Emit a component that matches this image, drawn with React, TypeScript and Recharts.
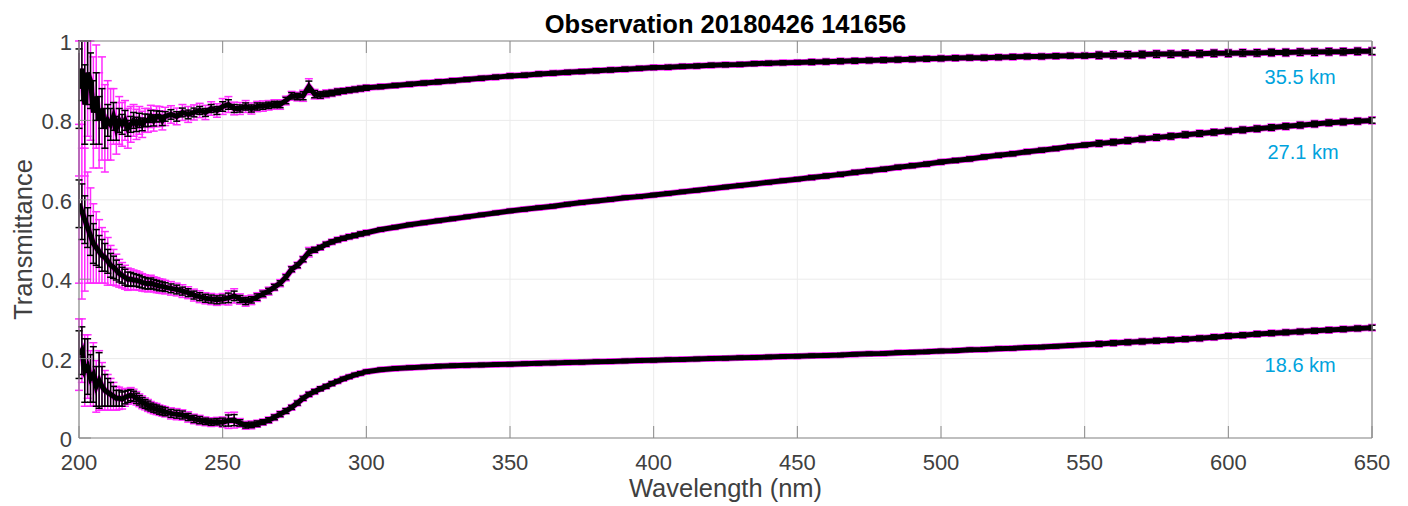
import { LineChart, Line, XAxis, YAxis, CartesianGrid, ErrorBar, ReferenceDot } from 'recharts'

const FONT = '"Liberation Sans", Arial, Helvetica, sans-serif'
const AXIS_GRAY = '#8a8a8a'
const TEXT_GRAY = '#404040'
const MAGENTA = '#ff2bff'
const LABEL_BLUE = '#00a3dd'

// wavelength samples (nm): 1 nm to 230, 2 nm to 300, 5 nm to 650
const wavelengths = [
  200, 201, 202, 203, 204, 205, 206, 207, 208, 209, 210, 211, 212, 213, 214, 215, 216, 217, 218, 219, 220,
  221, 222, 223, 224, 225, 226, 227, 228, 229, 230,
  232, 234, 236, 238, 240, 242, 244, 246, 248, 250, 252, 254, 256, 258, 260, 262, 264, 266, 268, 270,
  272, 274, 276, 278, 280, 282, 284, 286, 288, 290, 292, 294, 296, 298, 300,
  305, 310, 315, 320, 325, 330, 335, 340, 345, 350, 355, 360, 365, 370, 375, 380, 385, 390, 395, 400,
  405, 410, 415, 420, 425, 430, 435, 440, 445, 450, 455, 460, 465, 470, 475, 480, 485, 490, 495, 500,
  505, 510, 515, 520, 525, 530, 535, 540, 545, 550, 555, 560, 565, 570, 575, 580, 585, 590, 595, 600,
  605, 610, 615, 620, 625, 630, 635, 640, 645, 650,
]

// 35.5 km
const trans355 = [
  0.88, 0.93, 0.84, 0.92, 0.9, 0.82, 0.86, 0.8, 0.83, 0.78, 0.8, 0.79, 0.81, 0.78, 0.8, 0.79, 0.8, 0.78, 0.79, 0.8, 0.79,
  0.8, 0.79, 0.8, 0.8, 0.81, 0.8, 0.81, 0.81, 0.8, 0.81,
  0.815, 0.81, 0.82, 0.815, 0.82, 0.825, 0.82, 0.83, 0.825, 0.835, 0.84, 0.83, 0.83, 0.835, 0.83, 0.835, 0.836, 0.838, 0.84, 0.84,
  0.85, 0.862, 0.86, 0.862, 0.885, 0.866, 0.864, 0.867, 0.869, 0.872, 0.874, 0.876, 0.878, 0.88, 0.882,
  0.885, 0.888, 0.891, 0.894, 0.897, 0.9, 0.903, 0.906, 0.909, 0.912, 0.914, 0.917, 0.919, 0.921, 0.923, 0.925, 0.927, 0.929, 0.931, 0.933,
  0.934, 0.936, 0.937, 0.939, 0.94, 0.941, 0.943, 0.944, 0.945, 0.946, 0.947, 0.948, 0.949, 0.95, 0.951, 0.952, 0.953, 0.954, 0.955, 0.956,
  0.957, 0.958, 0.958, 0.959, 0.96, 0.961, 0.961, 0.962, 0.963, 0.963, 0.964, 0.965, 0.965, 0.966, 0.967, 0.967, 0.968, 0.968, 0.969, 0.969,
  0.97, 0.97, 0.971, 0.971, 0.972, 0.972, 0.973, 0.973, 0.974, 0.974,
]
const err355Black = [
  0.1, 0.08, 0.1, 0.08, 0.07, 0.08, 0.06, 0.06, 0.05, 0.05, 0.04, 0.04, 0.035, 0.03, 0.03, 0.025, 0.025, 0.02, 0.02, 0.02, 0.018,
  0.018, 0.016, 0.016, 0.015, 0.015, 0.014, 0.014, 0.013, 0.013, 0.012,
  0.012, 0.012, 0.011, 0.011, 0.011, 0.01, 0.01, 0.01, 0.01, 0.012, 0.012, 0.01, 0.009, 0.009, 0.009, 0.009, 0.008, 0.008, 0.008, 0.008,
  0.008, 0.008, 0.008, 0.01, 0.014, 0.009, 0.008, 0.007, 0.007, 0.007, 0.006, 0.006, 0.006, 0.006, 0.006,
  0.005, 0.005, 0.005, 0.005, 0.005, 0.005, 0.005, 0.005, 0.005, 0.005, 0.005, 0.005, 0.005, 0.005, 0.005, 0.005, 0.005, 0.005, 0.005, 0.005,
  0.005, 0.005, 0.005, 0.005, 0.005, 0.005, 0.005, 0.005, 0.005, 0.005, 0.006, 0.006, 0.006, 0.006, 0.006, 0.006, 0.006, 0.006, 0.006, 0.006,
  0.006, 0.006, 0.006, 0.006, 0.006, 0.006, 0.006, 0.006, 0.006, 0.006, 0.008, 0.008, 0.008, 0.008, 0.008, 0.008, 0.008, 0.008, 0.008, 0.008,
  0.008, 0.008, 0.008, 0.008, 0.008, 0.008, 0.008, 0.008, 0.008, 0.008,
]
const err355Magenta = [
  0.22, 0.2, 0.18, 0.16, 0.15, 0.14, 0.13, 0.12, 0.13, 0.11, 0.1, 0.09, 0.07, 0.065, 0.06, 0.055, 0.05, 0.05, 0.045, 0.04, 0.038,
  0.035, 0.033, 0.03, 0.03, 0.028, 0.027, 0.026, 0.025, 0.024, 0.023,
  0.022, 0.021, 0.02, 0.02, 0.019, 0.018, 0.018, 0.017, 0.017, 0.02, 0.02, 0.016, 0.015, 0.015, 0.014, 0.013, 0.013, 0.012, 0.012, 0.012,
  0.011, 0.011, 0.011, 0.014, 0.02, 0.012, 0.01, 0.01, 0.009, 0.009, 0.008, 0.008, 0.008, 0.008, 0.008,
  0.007, 0.007, 0.007, 0.007, 0.007, 0.007, 0.007, 0.007, 0.007, 0.007, 0.007, 0.007, 0.007, 0.007, 0.007, 0.007, 0.007, 0.007, 0.007, 0.007,
  0.007, 0.007, 0.007, 0.007, 0.007, 0.007, 0.007, 0.007, 0.007, 0.007, 0.008, 0.008, 0.008, 0.008, 0.008, 0.008, 0.008, 0.008, 0.008, 0.008,
  0.008, 0.008, 0.008, 0.008, 0.008, 0.008, 0.008, 0.008, 0.008, 0.008, 0.01, 0.01, 0.01, 0.01, 0.01, 0.01, 0.01, 0.01, 0.01, 0.01,
  0.01, 0.01, 0.01, 0.01, 0.01, 0.01, 0.01, 0.01, 0.01, 0.01,
]

// 27.1 km
const trans271 = [
  0.59, 0.57, 0.55, 0.53, 0.51, 0.49, 0.48, 0.47, 0.46, 0.455, 0.445, 0.435, 0.43, 0.423, 0.415, 0.41, 0.405, 0.4, 0.4, 0.398, 0.397,
  0.395, 0.392, 0.39, 0.388, 0.39, 0.387, 0.385, 0.383, 0.382, 0.38,
  0.377, 0.374, 0.37, 0.366, 0.36, 0.356, 0.352, 0.35, 0.348, 0.35, 0.353, 0.358, 0.35, 0.345, 0.348, 0.355, 0.363, 0.37, 0.38, 0.39,
  0.405, 0.425, 0.435, 0.45, 0.468, 0.474, 0.48, 0.488, 0.494, 0.499, 0.503, 0.507, 0.51, 0.514, 0.517,
  0.525, 0.531, 0.537, 0.542, 0.547, 0.552, 0.557, 0.562, 0.567, 0.572, 0.576, 0.58, 0.584, 0.589, 0.593, 0.597, 0.601, 0.605, 0.608, 0.612,
  0.616, 0.62, 0.624, 0.628, 0.632, 0.636, 0.64, 0.644, 0.648, 0.652, 0.656, 0.66, 0.664, 0.669, 0.673, 0.677, 0.682, 0.686, 0.69, 0.695,
  0.699, 0.703, 0.708, 0.712, 0.716, 0.721, 0.725, 0.729, 0.734, 0.738, 0.742, 0.745, 0.749, 0.753, 0.757, 0.76, 0.764, 0.767, 0.77, 0.773,
  0.776, 0.779, 0.782, 0.785, 0.788, 0.791, 0.794, 0.796, 0.798, 0.8,
]
const err271Black = [
  0.06, 0.07, 0.06, 0.05, 0.05, 0.05, 0.045, 0.04, 0.04, 0.035, 0.03, 0.03, 0.028, 0.025, 0.022, 0.02, 0.02, 0.018, 0.017, 0.016, 0.015,
  0.015, 0.014, 0.014, 0.013, 0.013, 0.012, 0.012, 0.012, 0.011, 0.011,
  0.011, 0.011, 0.01, 0.01, 0.01, 0.01, 0.01, 0.01, 0.01, 0.01, 0.012, 0.012, 0.009, 0.009, 0.008, 0.008, 0.007, 0.007, 0.007, 0.006,
  0.006, 0.006, 0.006, 0.006, 0.008, 0.006, 0.005, 0.005, 0.005, 0.005, 0.005, 0.005, 0.005, 0.005, 0.005,
  0.004, 0.004, 0.004, 0.004, 0.004, 0.004, 0.004, 0.004, 0.004, 0.004, 0.004, 0.004, 0.004, 0.004, 0.004, 0.004, 0.004, 0.004, 0.004, 0.004,
  0.004, 0.004, 0.004, 0.004, 0.004, 0.004, 0.004, 0.004, 0.004, 0.004, 0.005, 0.005, 0.005, 0.005, 0.005, 0.005, 0.005, 0.005, 0.005, 0.005,
  0.005, 0.005, 0.005, 0.005, 0.005, 0.005, 0.005, 0.005, 0.005, 0.005, 0.007, 0.007, 0.007, 0.007, 0.007, 0.007, 0.007, 0.007, 0.007, 0.007,
  0.007, 0.007, 0.007, 0.007, 0.007, 0.007, 0.007, 0.007, 0.007, 0.007,
]
const err271Magenta = [
  0.2, 0.22, 0.18, 0.14, 0.12, 0.1, 0.09, 0.08, 0.07, 0.065, 0.06, 0.05, 0.045, 0.04, 0.035, 0.032, 0.03, 0.028, 0.026, 0.025, 0.024,
  0.023, 0.022, 0.021, 0.02, 0.02, 0.019, 0.019, 0.018, 0.018, 0.017,
  0.017, 0.016, 0.016, 0.015, 0.015, 0.015, 0.014, 0.014, 0.014, 0.014, 0.018, 0.018, 0.013, 0.013, 0.012, 0.011, 0.01, 0.01, 0.009, 0.009,
  0.009, 0.008, 0.008, 0.008, 0.012, 0.008, 0.007, 0.007, 0.007, 0.007, 0.007, 0.007, 0.007, 0.007, 0.007,
  0.006, 0.006, 0.006, 0.006, 0.006, 0.006, 0.006, 0.006, 0.006, 0.006, 0.006, 0.006, 0.006, 0.006, 0.006, 0.006, 0.006, 0.006, 0.006, 0.006,
  0.006, 0.006, 0.006, 0.006, 0.006, 0.006, 0.006, 0.006, 0.006, 0.006, 0.007, 0.007, 0.007, 0.007, 0.007, 0.007, 0.007, 0.007, 0.007, 0.007,
  0.007, 0.007, 0.007, 0.007, 0.007, 0.007, 0.007, 0.007, 0.007, 0.007, 0.009, 0.009, 0.009, 0.009, 0.009, 0.009, 0.009, 0.009, 0.009, 0.009,
  0.009, 0.009, 0.009, 0.009, 0.009, 0.009, 0.009, 0.009, 0.009, 0.009,
]

// 18.6 km
const trans186 = [
  0.21, 0.22, 0.17, 0.18, 0.15, 0.16, 0.13, 0.145, 0.13, 0.12, 0.115, 0.11, 0.105, 0.1, 0.1, 0.098, 0.102, 0.105, 0.108, 0.105, 0.1,
  0.095, 0.09, 0.086, 0.082, 0.078, 0.075, 0.073, 0.07, 0.068, 0.066,
  0.062, 0.06, 0.058, 0.053, 0.048, 0.045, 0.042, 0.04, 0.041, 0.04, 0.044, 0.045, 0.038, 0.032, 0.033, 0.036, 0.04, 0.045, 0.052, 0.06,
  0.068, 0.077, 0.088, 0.1, 0.11, 0.117, 0.124, 0.13, 0.137, 0.143, 0.149, 0.154, 0.159, 0.163, 0.167,
  0.172, 0.175, 0.177, 0.179, 0.181, 0.182, 0.183, 0.184, 0.185, 0.186, 0.187, 0.188, 0.189, 0.19, 0.191, 0.192, 0.193, 0.194, 0.195, 0.196,
  0.197, 0.198, 0.199, 0.2, 0.201, 0.202, 0.203, 0.204, 0.205, 0.206, 0.207, 0.208, 0.209, 0.211, 0.212, 0.213, 0.215, 0.216, 0.217, 0.219,
  0.22, 0.222, 0.223, 0.225, 0.226, 0.228, 0.229, 0.231, 0.233, 0.235, 0.237, 0.239, 0.241, 0.243, 0.245, 0.247, 0.249, 0.251, 0.254, 0.257,
  0.259, 0.262, 0.264, 0.266, 0.268, 0.27, 0.272, 0.274, 0.276, 0.278,
]
const err186Black = [
  0.06, 0.06, 0.08, 0.07, 0.06, 0.07, 0.05, 0.07, 0.05, 0.04, 0.035, 0.03, 0.025, 0.02, 0.02, 0.018, 0.016, 0.015, 0.014, 0.013, 0.013,
  0.012, 0.012, 0.011, 0.011, 0.01, 0.01, 0.01, 0.01, 0.01, 0.01,
  0.01, 0.01, 0.01, 0.009, 0.009, 0.009, 0.008, 0.008, 0.008, 0.01, 0.014, 0.014, 0.008, 0.007, 0.007, 0.007, 0.006, 0.006, 0.006, 0.006,
  0.006, 0.005, 0.005, 0.005, 0.005, 0.005, 0.005, 0.005, 0.005, 0.004, 0.004, 0.004, 0.004, 0.004, 0.004,
  0.004, 0.004, 0.004, 0.004, 0.004, 0.004, 0.004, 0.004, 0.004, 0.004, 0.004, 0.004, 0.004, 0.004, 0.004, 0.004, 0.004, 0.004, 0.004, 0.004,
  0.004, 0.004, 0.004, 0.004, 0.004, 0.004, 0.004, 0.004, 0.004, 0.004, 0.004, 0.004, 0.004, 0.004, 0.004, 0.004, 0.004, 0.004, 0.004, 0.004,
  0.004, 0.004, 0.004, 0.004, 0.004, 0.004, 0.004, 0.004, 0.004, 0.004, 0.006, 0.006, 0.006, 0.006, 0.006, 0.006, 0.006, 0.006, 0.006, 0.006,
  0.006, 0.006, 0.006, 0.006, 0.006, 0.006, 0.006, 0.006, 0.006, 0.006,
]
const err186Magenta = [
  0.09, 0.08, 0.09, 0.08, 0.07, 0.08, 0.065, 0.075, 0.06, 0.05, 0.045, 0.04, 0.035, 0.03, 0.028, 0.025, 0.022, 0.02, 0.019, 0.018, 0.017,
  0.016, 0.016, 0.015, 0.015, 0.014, 0.014, 0.014, 0.013, 0.013, 0.013,
  0.014, 0.014, 0.013, 0.013, 0.012, 0.012, 0.011, 0.011, 0.011, 0.013, 0.02, 0.02, 0.011, 0.01, 0.01, 0.009, 0.008, 0.008, 0.008, 0.008,
  0.007, 0.007, 0.007, 0.007, 0.007, 0.007, 0.006, 0.006, 0.006, 0.006, 0.006, 0.006, 0.006, 0.006, 0.006,
  0.006, 0.006, 0.006, 0.006, 0.006, 0.006, 0.006, 0.006, 0.006, 0.006, 0.006, 0.006, 0.006, 0.006, 0.006, 0.006, 0.006, 0.006, 0.006, 0.006,
  0.006, 0.006, 0.006, 0.006, 0.006, 0.006, 0.006, 0.006, 0.006, 0.006, 0.006, 0.006, 0.006, 0.006, 0.006, 0.006, 0.006, 0.006, 0.006, 0.006,
  0.006, 0.006, 0.006, 0.006, 0.006, 0.006, 0.006, 0.006, 0.006, 0.006, 0.008, 0.008, 0.008, 0.008, 0.008, 0.008, 0.008, 0.008, 0.008, 0.008,
  0.008, 0.008, 0.008, 0.008, 0.008, 0.008, 0.008, 0.008, 0.008, 0.008,
]

const xTicks = [200, 250, 300, 350, 400, 450, 500, 550, 600, 650]
const yTicks = [0, 0.2, 0.4, 0.6, 0.8, 1]

// altitude labels, anchored in data units
const altitudeLabels = [
  { text: '35.5 km', w: 625, t: 0.909 },
  { text: '27.1 km', w: 626, t: 0.72 },
  { text: '18.6 km', w: 625, t: 0.184 },
]

const series = [
  { key: 'a', values: trans355, black: err355Black, magenta: err355Magenta },
  { key: 'b', values: trans271, black: err271Black, magenta: err271Magenta },
  { key: 'c', values: trans186, black: err186Black, magenta: err186Magenta },
]

// error bars are cut at the [0, 1] frame, as the axes box does in the original
const clipErr = (v: number, e: number) => [Math.min(e, v), Math.min(e, 1 - v)]

const rows = wavelengths.map((w, i) => {
  const row: Record<string, any> = { w }
  series.forEach((s) => {
    const v = s.values[i]
    row[s.key] = v
    row[s.key + 'B'] = clipErr(v, s.black[i])
    row[s.key + 'M'] = clipErr(v, s.magenta[i])
  })
  return row
})

const TICK_LEN = 12

function BottomTick({ x, y, payload }: any) {
  return (
    <g>
      <line x1={x} x2={x} y1={y} y2={y - TICK_LEN} stroke={AXIS_GRAY} />
      <text x={x} y={y + 32} textAnchor="middle" fontSize={22} fill={TEXT_GRAY} fontFamily={FONT}>
        {payload.value}
      </text>
    </g>
  )
}

function LeftTick({ x, y, payload }: any) {
  return (
    <g>
      <line x1={x} x2={x + TICK_LEN} y1={y} y2={y} stroke={AXIS_GRAY} />
      <text x={x - 7} y={y + 9} textAnchor="end" fontSize={22} fill={TEXT_GRAY} fontFamily={FONT}>
        {String(payload.value)}
      </text>
    </g>
  )
}

function TopTick({ x, y }: any) {
  return <line x1={x} x2={x} y1={y} y2={y + TICK_LEN} stroke={AXIS_GRAY} />
}

function RightTick({ x, y }: any) {
  return <line x1={x} x2={x - TICK_LEN} y1={y} y2={y} stroke={AXIS_GRAY} />
}

export default function App() {
  return (
    <div style={{ position: 'absolute', left: 0, top: 0, width: 1408, height: 506, background: '#fff' }}>
      <LineChart width={1408} height={506} data={rows} margin={{ top: 40, right: 35, bottom: 67, left: 78 }}>
        <CartesianGrid stroke="#ebebeb" strokeWidth={1} />
        <XAxis
          dataKey="w"
          type="number"
          domain={[200, 650]}
          ticks={xTicks}
          interval={0}
          allowDataOverflow
          height={1}
          tickSize={0}
          tickMargin={0}
          axisLine={{ stroke: AXIS_GRAY, strokeWidth: 1.2 }}
          tick={BottomTick}
        />
        <XAxis
          xAxisId="top"
          orientation="top"
          dataKey="w"
          type="number"
          domain={[200, 650]}
          ticks={xTicks}
          interval={0}
          height={1}
          tickSize={0}
          tickMargin={0}
          axisLine={{ stroke: AXIS_GRAY, strokeWidth: 1.2 }}
          tick={TopTick}
        />
        <YAxis
          type="number"
          domain={[0, 1]}
          ticks={yTicks}
          interval={0}
          allowDataOverflow
          width={1}
          tickSize={0}
          tickMargin={0}
          axisLine={{ stroke: AXIS_GRAY, strokeWidth: 1.2 }}
          tick={LeftTick}
        />
        <YAxis
          yAxisId="right"
          orientation="right"
          type="number"
          domain={[0, 1]}
          ticks={yTicks}
          interval={0}
          width={1}
          tickSize={0}
          tickMargin={0}
          axisLine={{ stroke: AXIS_GRAY, strokeWidth: 1.2 }}
          tick={RightTick}
        />
        {series.map((s) => (
          <Line
            key={s.key + '-m'}
            dataKey={s.key}
            type="linear"
            stroke={MAGENTA}
            strokeWidth={6.5}
            dot={false}
            activeDot={false}
            isAnimationActive={false}
          >
            <ErrorBar dataKey={s.key + 'M'} stroke={MAGENTA} strokeWidth={1.5} width={4} isAnimationActive={false} />
          </Line>
        ))}
        {series.map((s) => (
          <Line
            key={s.key + '-b'}
            dataKey={s.key}
            type="linear"
            stroke="#000"
            strokeWidth={5}
            dot={false}
            activeDot={false}
            isAnimationActive={false}
          >
            <ErrorBar dataKey={s.key + 'B'} stroke="#000" strokeWidth={1.5} width={3.5} isAnimationActive={false} />
          </Line>
        ))}
        {altitudeLabels.map((l) => (
          <ReferenceDot
            key={l.text}
            x={l.w}
            y={l.t}
            r={0}
            fill="none"
            stroke="none"
            ifOverflow="visible"
            label={{ value: l.text, position: 'center', fill: LABEL_BLUE, fontSize: 20, fontFamily: FONT }}
          />
        ))}
      </LineChart>
      <svg
        width={1408}
        height={506}
        style={{ position: 'absolute', left: 0, top: 0, pointerEvents: 'none' }}
      >
        <text x={725.5} y={33} textAnchor="middle" fontSize={25.5} fontWeight="bold" fill="#000" fontFamily={FONT}>
          Observation 20180426 141656
        </text>
        <text x={725.5} y={497} textAnchor="middle" fontSize={25.5} fill={TEXT_GRAY} fontFamily={FONT}>
          Wavelength (nm)
        </text>
        <text
          x={32}
          y={239.5}
          textAnchor="middle"
          fontSize={25.5}
          fill={TEXT_GRAY}
          fontFamily={FONT}
          transform="rotate(-90 32 239.5)"
        >
          Transmittance
        </text>
      </svg>
    </div>
  )
}
